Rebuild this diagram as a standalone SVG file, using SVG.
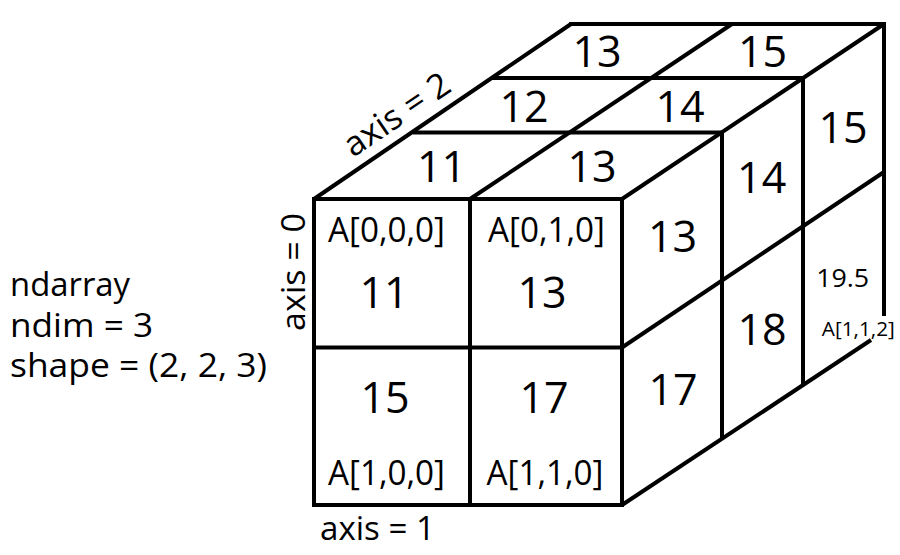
<svg xmlns="http://www.w3.org/2000/svg" width="900" height="555" viewBox="0 0 900 555">
  <style>
    .ln { fill: none; stroke: #000; stroke-width: 4; stroke-linejoin: miter; stroke-linecap: butt; }
    .t { font-family: "Open Sans", "Noto Sans", "DejaVu Sans", sans-serif; fill: #000; }
    .big { font-size: 43px; text-anchor: middle; }
    .idx { font-size: 35px; text-anchor: middle; }
    .lbl { font-size: 32px; }
  </style>
  <rect width="900" height="555" fill="#fff"/>

  <g id="connectors">
    <!-- front face -->
    <rect class="ln" x="314" y="199" width="308" height="306"/>
    <line class="ln" x1="314" y1="347.5" x2="622" y2="347.5"/>
    <line class="ln" x1="470" y1="199" x2="470" y2="505"/>
    <!-- top face -->
    <line class="ln" x1="314" y1="199" x2="571" y2="24"/>
    <line class="ln" x1="470" y1="199" x2="732" y2="24"/>
    <line class="ln" x1="622" y1="199" x2="884" y2="24"/>
    <line class="ln" x1="569" y1="24" x2="886" y2="24"/>
    <line class="ln" x1="492" y1="78" x2="803" y2="78"/>
    <line class="ln" x1="413" y1="132.5" x2="722" y2="132.5"/>
    <!-- right face -->
    <line class="ln" x1="722" y1="132.5" x2="722" y2="439"/>
    <line class="ln" x1="803" y1="78" x2="803" y2="386"/>
    <line class="ln" x1="884" y1="22" x2="884" y2="316"/>
    <line class="ln" x1="622" y1="347.5" x2="884" y2="172"/>
    <line class="ln" x1="622" y1="505" x2="871" y2="340"/>
  </g>

  <g id="info">
    <text class="t lbl" x="10" y="296" textLength="120" lengthAdjust="spacingAndGlyphs">ndarray</text>
    <text class="t lbl" x="10" y="337" textLength="143" lengthAdjust="spacingAndGlyphs">ndim = 3</text>
    <text class="t lbl" x="10" y="377" textLength="257" lengthAdjust="spacingAndGlyphs">shape = (2, 2, 3)</text>
  </g>

  <g id="axes">
    <text class="t lbl" transform="translate(305,331) rotate(-90)" textLength="118" lengthAdjust="spacingAndGlyphs">axis = 0</text>
    <text class="t lbl" x="320" y="540" textLength="115" lengthAdjust="spacingAndGlyphs">axis = 1</text>
    <text class="t" font-size="34" transform="translate(353,158) rotate(-34.1)" textLength="121" lengthAdjust="spacingAndGlyphs">axis = 2</text>
  </g>

  <g id="cell-000">
    <text class="t idx" x="386.5" y="241.5" textLength="117" lengthAdjust="spacingAndGlyphs">A[0,0,0]</text>
    <text class="t big" x="384" y="307.5">11</text>
  </g>
  <g id="cell-010">
    <text class="t idx" x="546.5" y="241.5" textLength="117" lengthAdjust="spacingAndGlyphs">A[0,1,0]</text>
    <text class="t big" x="542" y="307.5">13</text>
  </g>
  <g id="cell-100">
    <text class="t big" x="385" y="413">15</text>
    <text class="t idx" x="386.5" y="485" textLength="117" lengthAdjust="spacingAndGlyphs">A[1,0,0]</text>
  </g>
  <g id="cell-110">
    <text class="t big" x="544" y="413">17</text>
    <text class="t idx" x="545" y="485" textLength="117" lengthAdjust="spacingAndGlyphs">A[1,1,0]</text>
  </g>

  <g id="top-face">
    <text class="t big" x="441.5" y="182">11</text>
    <text class="t big" x="592" y="182">13</text>
    <text class="t big" x="524" y="122">12</text>
    <text class="t big" x="680" y="122">14</text>
    <text class="t big" x="597" y="67">13</text>
    <text class="t big" x="762.5" y="67">15</text>
  </g>

  <g id="right-face">
    <text class="t big" x="672.5" y="252">13</text>
    <text class="t big" x="761.7" y="193.3">14</text>
    <text class="t big" x="843" y="142.7">15</text>
    <text class="t big" x="673" y="405">17</text>
    <text class="t big" x="762" y="345">18</text>
  </g>

  <g id="cell-112">
    <text class="t" x="842.7" y="286.7" font-size="25" text-anchor="middle" textLength="53" lengthAdjust="spacingAndGlyphs">19.5</text>
    <text class="t" x="858.3" y="336" font-size="20" text-anchor="middle" textLength="73" lengthAdjust="spacingAndGlyphs">A[1,1,2]</text>
  </g>
</svg>
